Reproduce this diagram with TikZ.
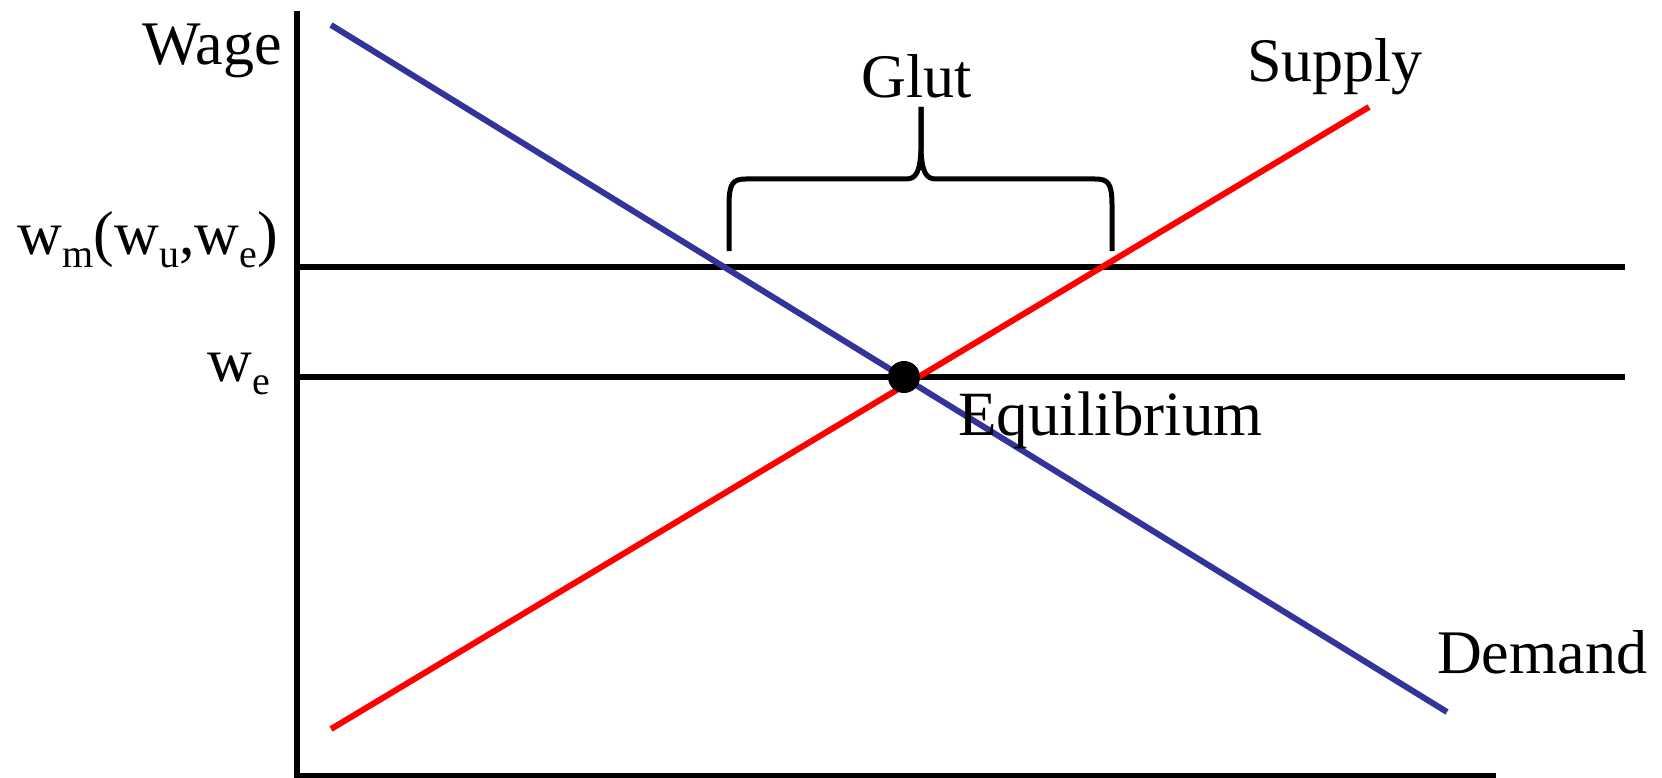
\documentclass[tikz,border=0pt]{standalone}
\usepackage{fontspec}
\setmainfont{Liberation Serif}
\newcommand{\sbs}[1]{\raisebox{-0.22em}{\fontsize{40}{40}\selectfont #1}}
\tikzset{
  lbl/.style={inner sep=0pt, font=\fontsize{62}{70}\selectfont},
  axisline/.style={line width=6pt, black},
  demandline/.style={line width=6pt, draw=demandblue},
  supplyline/.style={line width=6pt, draw=red},
  bracepath/.style={line width=5pt, black, line join=round},
}
\definecolor{demandblue}{RGB}{51,51,153}
\begin{document}
\begin{tikzpicture}[x=1pt,y=-1pt]
\useasboundingbox (0,0) rectangle (1662,778);
% axes
\coordinate (ytop) at (297,11);
\coordinate (origin) at (297,776);
\coordinate (xend) at (1496,776);
\draw[axisline] (ytop) -- (origin) -- (xend);
% wage levels
\coordinate (wmL) at (297,267);
\coordinate (wmR) at (1625,267);
\coordinate (weL) at (297,377);
\coordinate (weR) at (1625,377);
\draw[axisline] (wmL) -- (wmR);
\draw[axisline] (weL) -- (weR);
% curves
\coordinate (dA) at (331,25);
\coordinate (dB) at (1447,712);
\coordinate (sA) at (331,729);
\coordinate (sB) at (1369,107);
\draw[demandline] (dA) -- (dB);
\draw[supplyline] (sA) -- (sB);
% equilibrium
\node[circle, fill=black, inner sep=0pt, minimum size=32pt] (eq) at (904,377) {};
% brace
\coordinate (bl) at (729,251);
\coordinate (br) at (1112,251);
\coordinate (bt) at (921,107);
\draw[bracepath] (bl) -- (729,205) .. controls (729,183) and (733,179) .. (746,179)
  -- (906,179) .. controls (916,179) and (920,172) .. (921,150) -- (bt);
\draw[bracepath] (br) -- (1112,205) .. controls (1112,183) and (1108,179) .. (1095,179)
  -- (936,179) .. controls (926,179) and (922,172) .. (921,150) -- (bt);
% labels
\node[lbl, anchor=base east] (wage) at (282,65) {Wage};
\node[lbl, anchor=base east] (wm) at (278,254) {w\sbs{m}(w\sbs{u},w\sbs{e})};
\node[lbl, anchor=base east] (we) at (270,381) {w\sbs{e}};
\node[lbl, anchor=base] (glut) at (917,98) {Glut};
\node[lbl, anchor=base west] (supply) at (1247,82) {Supply};
\node[lbl, anchor=base west] (demand) at (1437,673) {Demand};
\node[lbl, anchor=base west, font=\fontsize{63}{70}\selectfont] (eqlabel) at (958,435) {Equilibrium};
\end{tikzpicture}
\end{document}
